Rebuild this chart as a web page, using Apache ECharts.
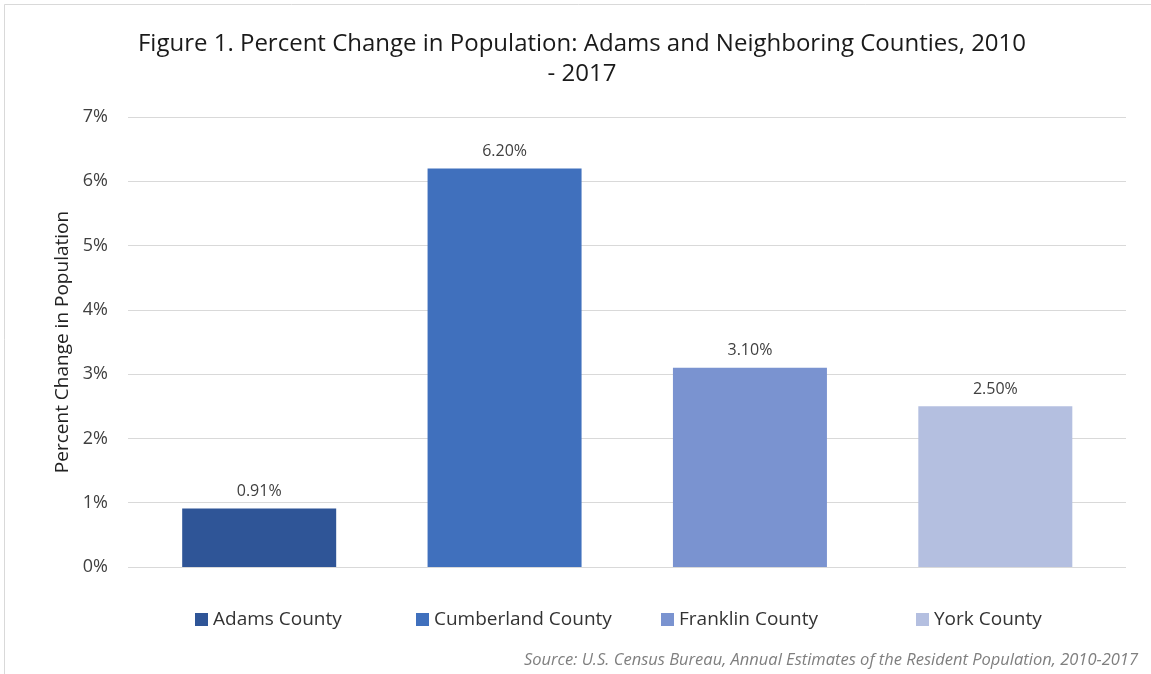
<!DOCTYPE html>
<html>
<head>
<meta charset="utf-8">
<script src="https://cdn.jsdelivr.net/npm/echarts@6/dist/echarts.min.js"></script>
<style>html,body{margin:0;padding:0;background:#fff}#c{width:1151px;height:674px}</style>
</head>
<body>
<div id="c"></div>
<script>
const categories = ['Adams County', 'Cumberland County', 'Franklin County', 'York County'];
const values = [0.91, 6.2, 3.1, 2.5];
const colors = ['#2F5597', '#4070BD', '#7A93D0', '#B4BFE0'];
const yTicks = [0, 1, 2, 3, 4, 5, 6, 7];
const titleText = 'Figure 1. Percent Change in Population: Adams and Neighboring Counties, 2010\n- 2017';
const yName = 'Percent Change in Population';
const sourceText = 'Source: U.S. Census Bureau, Annual Estimates of the Resident Population, 2010-2017';
const legendLefts = [190, 411, 656, 911];

const FONT = 'Open Sans';
const chart = echarts.init(document.getElementById('c'), null, {renderer: 'canvas'});

const series = categories.map((name, i) => ({
  name: name,
  type: 'bar',
  xAxisIndex: 1,
  yAxisIndex: 1,
  stack: 'all',
  barWidth: 154,
  itemStyle: {color: colors[i]},
  label: {
    show: true, position: 'top', distance: 9,
    fontFamily: FONT, fontSize: 16, color: '#404040',
    formatter: p => p.value.toFixed(2) + '%'
  },
  data: categories.map((c, j) => j === i ? values[i] : '-')
}));

const option = {
  animation: false,
  backgroundColor: '#fff',
  title: [{
    text: titleText,
    left: 577,
    textAlign: 'center',
    top: 24,
    textStyle: {fontFamily: FONT, fontSize: 24, fontWeight: 'normal', color: '#1a1a1a', lineHeight: 30}
  }, {
    text: sourceText,
    right: 8,
    top: 647,
    textStyle: {fontFamily: FONT, fontSize: 16.5, fontStyle: 'italic', fontWeight: 'normal', color: '#7F7F7F'}
  }],
  legend: categories.map((c, i) => ({
    data: [c],
    left: legendLefts[i],
    top: 605,
    itemWidth: 13,
    itemHeight: 13,
    itemGap: 6,
    icon: 'rect',
    textStyle: {fontFamily: FONT, fontSize: 19, color: '#333'}
  })),
  grid: [
    {left: 128, right: 25, top: 117, bottom: 107},
    {left: 136.5, right: 33, top: 117, bottom: 107}
  ],
  xAxis: [
    {gridIndex: 0, type: 'value', min: 0, max: 1, show: false},
    {gridIndex: 1, type: 'category', data: categories,
     axisLine: {show: false}, axisTick: {show: false}, axisLabel: {show: false}, splitLine: {show: false}}
  ],
  yAxis: [
    {gridIndex: 0, type: 'value', min: yTicks[0], max: yTicks[yTicks.length - 1], interval: 1,
     axisLine: {show: false}, axisTick: {show: false},
     axisLabel: {formatter: '{value}%', fontFamily: FONT, fontSize: 18, color: '#404040', margin: 20},
     splitLine: {lineStyle: {color: '#D9D9D9', width: 1}},
     name: yName, nameLocation: 'middle', nameGap: 56, nameRotate: 90,
     nameTextStyle: {fontFamily: FONT, fontSize: 19, color: '#222'}},
    {gridIndex: 1, type: 'value', min: yTicks[0], max: yTicks[yTicks.length - 1], interval: 1, show: false,
     splitLine: {show: false}}
  ],
  graphic: [{
    type: 'rect', silent: true, z: -1,
    shape: {x: 4.5, y: 4.5, width: 1200, height: 700},
    style: {fill: 'none', stroke: '#D9D9D9', lineWidth: 1}
  }],
  series: series
};
chart.setOption(option);
</script>
</body>
</html>
